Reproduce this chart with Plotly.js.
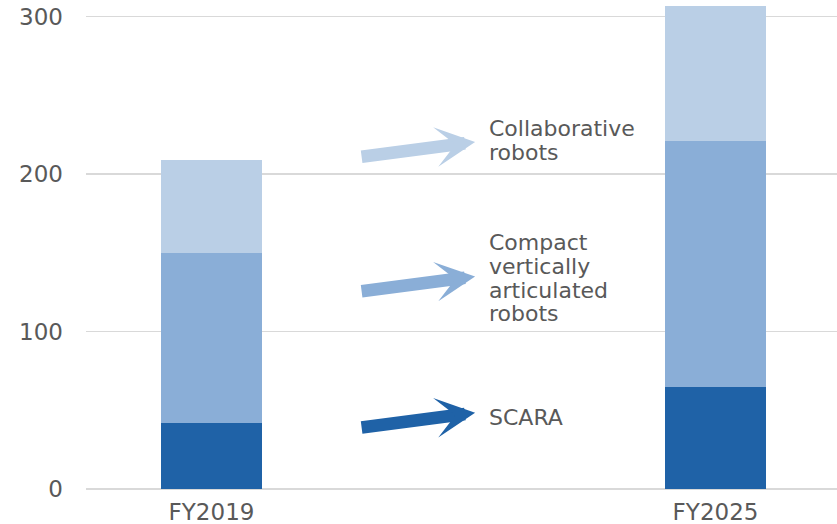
<!DOCTYPE html>
<html>
<head>
<meta charset="utf-8">
<script src="https://cdn.plot.ly/plotly-3.0.1.min.js"></script>
<style>
  html, body { margin: 0; padding: 0; background: #fff; }
  #chart { width: 837px; height: 524px; }
</style>
</head>
<body>
<div id="chart"></div>
<script>
  // データ
  const years = ["FY2019", "FY2025"];
  const scara = [42, 65];
  const compact = [108, 156];
  const collaborative = [59, 86];

  const seriesNames = ["SCARA", "Compact vertically articulated robots", "Collaborative robots"];
  // ラベルは行ごとに分けて配置（行間を詰めるため）
  const labelLines = [
    ["SCARA"],
    ["Compact", "vertically", "articulated", "robots"],
    ["Collaborative", "robots"]
  ];
  const seriesColors = ["#1f62a7", "#8aaed7", "#bacfe6"];
  // 矢印の先端の高さ（y軸の値）
  const arrowTipY = [48.5, 135, 220.5];
  // ラベル1行目の中心（y軸の値）
  const labelTopY = [45.7, 156.8, 229.2];

  const textColor = "#595959";
  const fontFamily = "'DejaVu Sans', 'Noto Sans', sans-serif";
  const lineStep = 15.2; // 24px 相当

  const traces = [scara, compact, collaborative].map((vals, i) => ({
    type: "bar",
    x: years,
    y: vals,
    name: seriesNames[i],
    width: 0.2,
    marker: { color: seriesColors[i], line: { width: 0 } },
    hoverinfo: "skip"
  }));

  const annotations = [];
  seriesNames.forEach((name, i) => {
    // 矢印
    annotations.push({
      x: 0.523,
      y: arrowTipY[i],
      xref: "x",
      yref: "y",
      ax: -115,
      ay: 15,
      text: "",
      showarrow: true,
      arrowhead: 3,
      arrowsize: 0.53,
      arrowwidth: 12.5,
      arrowcolor: seriesColors[i]
    });
    // ラベル
    labelLines[i].forEach((line, j) => {
      annotations.push({
        x: 0.546,
        y: labelTopY[i] - j * lineStep,
        xref: "x",
        yref: "y",
        xanchor: "left",
        yanchor: "middle",
        align: "left",
        text: line,
        showarrow: false,
        font: { family: fontFamily, size: 22, color: textColor }
      });
    });
  });

  const layout = {
    width: 837,
    height: 524,
    margin: { l: 86, r: 0, t: 1, b: 35 },
    paper_bgcolor: "#fff",
    plot_bgcolor: "#fff",
    barmode: "stack",
    showlegend: false,
    font: { family: fontFamily, color: textColor },
    xaxis: {
      type: "category",
      range: [-0.249, 1.241],
      showgrid: false,
      showline: false,
      zeroline: false,
      ticks: "",
      ticklabelstandoff: 7,
      tickfont: { size: 23, color: textColor }
    },
    yaxis: {
      range: [0, 310],
      tickvals: [0, 100, 200, 300],
      showgrid: true,
      gridcolor: "#d9d9d9",
      gridwidth: 1.5,
      zeroline: true,
      zerolinecolor: "#d9d9d9",
      zerolinewidth: 1.5,
      showline: false,
      ticks: "",
      ticklabelstandoff: 22,
      tickfont: { size: 23, color: textColor }
    },
    annotations: annotations
  };

  Plotly.newPlot("chart", traces, layout, { staticPlot: true });
</script>
</body>
</html>
